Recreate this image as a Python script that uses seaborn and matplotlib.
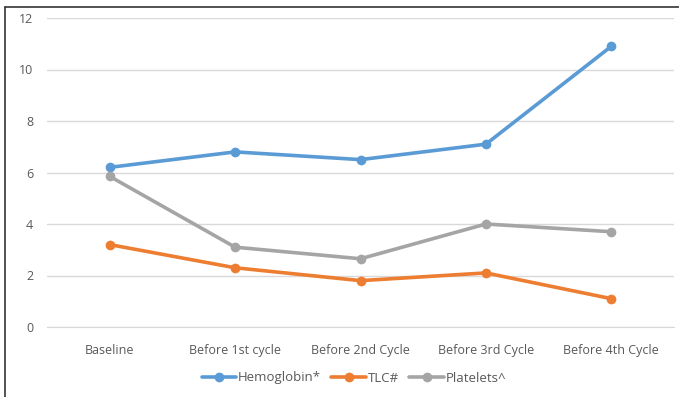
import matplotlib
matplotlib.use("Agg")
import matplotlib.pyplot as plt
import seaborn as sns
import pandas as pd
from matplotlib.lines import Line2D

stages = ["Baseline", "Before 1st cycle", "Before 2nd Cycle", "Before 3rd Cycle", "Before 4th Cycle"]
hemoglobin = [6.2, 6.8, 6.5, 7.1, 10.9]
tlc = [3.2, 2.3, 1.8, 2.1, 1.1]
platelets = [5.85, 3.1, 2.65, 4.0, 3.7]
series_names = ["Hemoglobin*", "TLC#", "Platelets^"]
colors = ["#5B9BD5", "#ED7D31", "#A5A5A5"]

df = pd.DataFrame({
    "Stage": stages * 3,
    "Value": hemoglobin + tlc + platelets,
    "Series": [series_names[0]] * 5 + [series_names[1]] * 5 + [series_names[2]] * 5,
})

sns.set_style("white")
plt.rcParams["font.family"] = ["Open Sans", "DejaVu Sans"]

fig = plt.figure(figsize=(6.79, 3.97), dpi=100)
ax = fig.add_axes([47 / 679, 70 / 397, 627 / 679, 309 / 397])

sns.lineplot(data=df, x="Stage", y="Value", hue="Series", palette=colors,
             marker="o", markersize=7, markeredgewidth=0, linewidth=2.6,
             ax=ax, legend=False, sort=False)

ax.set_xlim(-0.5, 4.5)
ax.set_ylim(0, 12)
ax.set_yticks(range(0, 13, 2))
ax.grid(axis="y", color="#D9D9D9", linewidth=1)
ax.set_axisbelow(True)
for s in ["top", "right", "left"]:
    ax.spines[s].set_visible(False)
ax.spines["bottom"].set_color("#D9D9D9")
ax.tick_params(axis="both", length=0, labelsize=9, colors="#595959")
ax.tick_params(axis="y", pad=10)
ax.tick_params(axis="x", pad=12)
ax.set_xlabel("")
ax.set_ylabel("")

handles = [Line2D([0], [0], color=c, linewidth=2.6, marker="o", markersize=7,
                  markeredgewidth=0) for c in colors]
fig.legend(handles, series_names, loc="center", bbox_to_anchor=(354 / 679, 1 - 378 / 397),
           ncol=3, frameon=False, fontsize=9.5, handlelength=2.6, columnspacing=0.8,
           handletextpad=0.15, labelcolor="#595959")

# frame edges visible at left and top of the reference
fig.add_artist(Line2D([5 / 679, 5 / 679], [0, 1 - 7 / 397], color="#333333", linewidth=1.2,
                      transform=fig.transFigure))
fig.add_artist(Line2D([5 / 679, 1], [1 - 7 / 397, 1 - 7 / 397], color="#333333", linewidth=1.2,
                      transform=fig.transFigure))

fig.savefig("out.png", dpi=100, facecolor="white")
